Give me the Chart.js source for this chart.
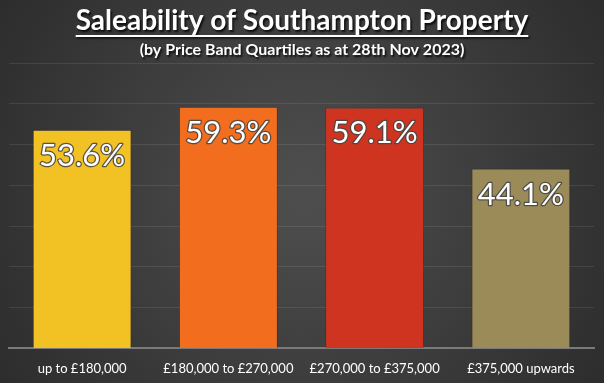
<!DOCTYPE html>
<html>
<head>
<meta charset="utf-8">
<style>
  html, body { margin: 0; padding: 0; background: #3a3a3a; }
  #wrap { width: 604px; height: 383px; }
</style>
<script src="https://cdn.jsdelivr.net/npm/chart.js@4/dist/chart.umd.min.js"></script>
</head>
<body>
<div id="wrap"><canvas id="saleChart" width="604" height="383"></canvas></div>
<script>
/* ===============================
   DATA
================================ */
const bands = ["up to £180,000", "£180,000 to £270,000", "£270,000 to £375,000", "£375,000 upwards"];
const saleability = [53.6, 59.3, 59.1, 44.1];
const barColors = ["#F2C224", "#F26D1D", "#CF3420", "#9B8B58"];
const titleText = "Saleability of Southampton Property";
const subtitleText = "(by Price Band Quartiles as at 28th Nov 2023)";

const FONT = "Lato, 'Open Sans', sans-serif";

/* ===============================
   BACKGROUND + TITLES
================================ */
const backdrop = {
  id: "backdrop",
  beforeDraw(chart) {
    const { ctx, width, height } = chart;
    ctx.save();
    const g = ctx.createRadialGradient(width / 2, height / 2, 20, width / 2, height / 2, width * 0.62);
    g.addColorStop(0, "#4d4d4d");
    g.addColorStop(1, "#2b2b2b");
    ctx.fillStyle = g;
    ctx.fillRect(0, 0, width, height);
    ctx.restore();
  },
  afterDraw(chart) {
    const { ctx, width } = chart;
    ctx.save();
    ctx.textAlign = "center";
    ctx.textBaseline = "alphabetic";
    ctx.shadowColor = "rgba(0,0,0,0.8)";
    ctx.shadowOffsetX = 1.5;
    ctx.shadowOffsetY = 1.5;
    ctx.shadowBlur = 2;
    ctx.fillStyle = "#ffffff";

    ctx.font = "bold 28px " + FONT;
    ctx.fillText(titleText, width / 2, 30);
    const w = ctx.measureText(titleText).width;
    ctx.fillRect(width / 2 - w / 2, 35, w, 2);

    ctx.font = "bold 16px " + FONT;
    ctx.fillText(subtitleText, width / 2, 55);
    ctx.restore();
  }
};

/* ===============================
   VALUE LABELS IN BARS
================================ */
const valueLabels = {
  id: "valueLabels",
  afterDatasetsDraw(chart) {
    const { ctx } = chart;
    const meta = chart.getDatasetMeta(0);
    ctx.save();
    ctx.font = "31px " + FONT;
    ctx.textAlign = "center";
    ctx.textBaseline = "middle";
    ctx.lineJoin = "round";
    meta.data.forEach((bar, i) => {
      const txt = saleability[i].toFixed(1) + "%";
      const y = bar.y + 26;
      ctx.lineWidth = 2.5;
      ctx.strokeStyle = "rgba(70,70,70,0.9)";
      ctx.strokeText(txt, bar.x, y);
      ctx.fillStyle = "#ffffff";
      ctx.fillText(txt, bar.x, y);
    });
    ctx.restore();
  }
};

/* ===============================
   CHART
================================ */
new Chart(document.getElementById("saleChart"), {
  type: "bar",
  data: {
    labels: bands,
    datasets: [{
      data: saleability,
      backgroundColor: barColors,
      borderColor: "rgba(0,0,0,0.15)",
      borderWidth: 1,
      barPercentage: 0.677,
      categoryPercentage: 1
    }]
  },
  options: {
    responsive: false,
    animation: false,
    layout: { padding: { top: 63, left: 9, right: 10, bottom: -7 } },
    plugins: {
      legend: { display: false },
      tooltip: { enabled: false }
    },
    scales: {
      x: {
        grid: { display: false, drawTicks: false },
        border: { color: "#7a7a7a", width: 2 },
        ticks: {
          color: "#ffffff",
          font: { family: FONT, size: 13 },
          padding: 13,
          maxRotation: 0,
          autoSkip: false
        }
      },
      y: {
        min: 0,
        max: 70,
        ticks: { display: false, stepSize: 10 },
        grid: { color: "rgba(255,255,255,0.09)", drawTicks: false },
        border: { display: false }
      }
    }
  },
  plugins: [backdrop, valueLabels]
});
</script>
</body>
</html>
